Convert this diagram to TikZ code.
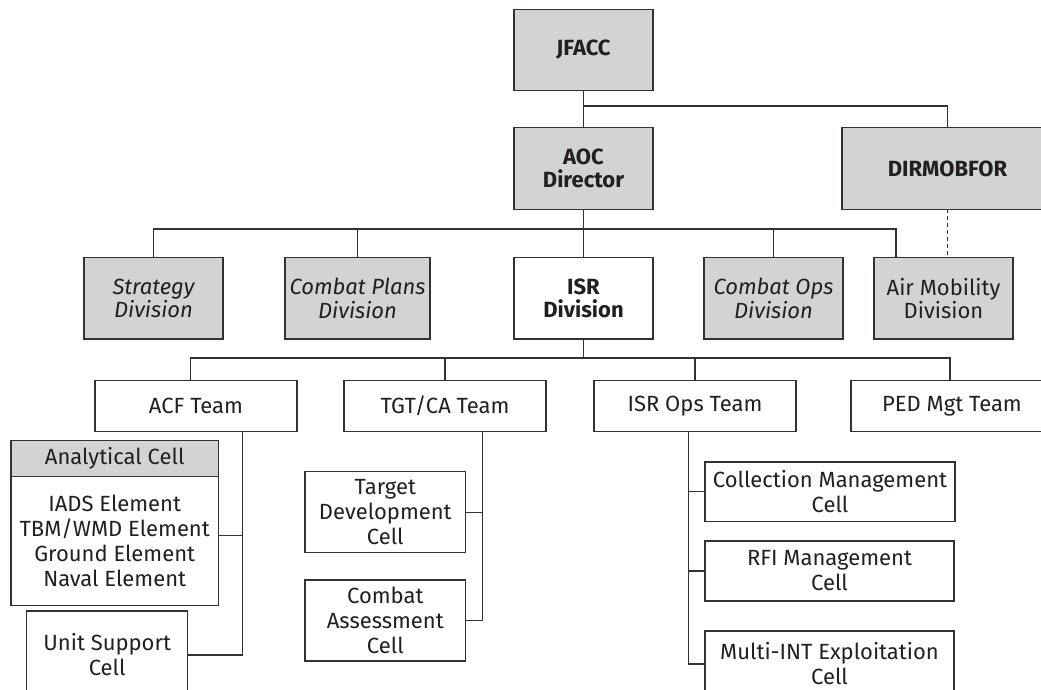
\documentclass[tikz,border=0pt]{standalone}
\usepackage{fontspec}
\setmainfont{Fira Sans}
\usetikzlibrary{calc}
\definecolor{boxgray}{RGB}{209,211,212}
\definecolor{ink}{RGB}{35,31,32}
\definecolor{rule}{RGB}{50,50,50}
\newcommand\chartfont{\fontsize{22}{25}\selectfont}
\newcommand\divfont{\fontsize{22}{23.5}\selectfont}

\begin{document}
\begin{tikzpicture}[x=1pt,y=-1pt,
  unitbox/.style={draw=rule, line width=1.2pt, align=center, inner sep=0pt,
    outer sep=0pt, text=ink, font=\chartfont},
  shaded/.style={unitbox, fill=boxgray},
  plain/.style={unitbox, fill=white},
  bold/.style={font=\divfont\bfseries},
  slanted/.style={font=\divfont\itshape},
  upright/.style={font=\divfont},
  link/.style={draw=rule, line width=1.2pt},
  dotlink/.style={link, dash pattern=on 4pt off 3pt}]

\useasboundingbox (0,0) rectangle (1041,690);
\clip (0,0) rectangle (1041,690);

% command level
\node[shaded, bold, minimum width=139pt, minimum height=81.4pt] (jf) at (583.5,50) {JFACC};
\node[shaded, bold, minimum width=139pt, minimum height=81.6pt] (aoc) at (583.5,168.5) {AOC\\Director};
\node[shaded, bold, minimum width=211pt, minimum height=81.6pt] (dm) at (947.5,168.5) {DIRMOBFOR};

% divisions
\node[shaded, slanted, minimum width=139pt, minimum height=81.5pt] (st) at (153.5,298.3) {Strategy\\Division};
\node[shaded, slanted, minimum width=145pt, minimum height=81.5pt] (cp) at (357.5,298.3) {Combat Plans\\Division};
\node[plain, bold, minimum width=139pt, minimum height=81.5pt] (isr) at (583.5,298.3) {ISR\\Division};
\node[shaded, slanted, minimum width=139pt, minimum height=81.5pt] (co) at (773.5,298.3) {Combat Ops\\Division};
\node[shaded, upright, minimum width=139pt, minimum height=81.5pt] (am) at (943.5,298.3) {Air Mobility\\Division};

% ISR teams
\node[plain, minimum width=202pt, minimum height=51pt] (acf) at (196,406.2) {ACF Team};
\node[plain, minimum width=202pt, minimum height=51pt] (tgt) at (445,406.2) {TGT/CA Team};
\node[plain, minimum width=202pt, minimum height=51pt] (ops) at (695,406.2) {ISR Ops Team};
\node[plain, minimum width=202pt, minimum height=51pt] (ped) at (952,406.2) {PED Mgt Team};

% ACF cells
\node[shaded, minimum width=207.3pt, minimum height=36pt] (anh) at (114.7,458.7) {Analytical Cell};
\node[plain, minimum width=207.3pt, minimum height=129pt] (anb) at (114.7,541.2)
  {IADS Element\\TBM/WMD Element\\Ground Element\\Naval Element};
\node[plain, minimum width=161pt, minimum height=88pt] (us) at (107.2,655) {Unit Support\\Cell};

% TGT/CA cells
\node[plain, minimum width=160.7pt, minimum height=81pt] (td) at (385.3,512.2) {Target\\Development\\Cell};
\node[plain, minimum width=160.7pt, minimum height=81pt] (ca) at (385.3,620.5) {Combat\\Assessment\\Cell};

% ISR Ops cells
\node[plain, minimum width=250pt, minimum height=59.7pt] (cm) at (830,491.8) {Collection Management\\Cell};
\node[plain, minimum width=249pt, minimum height=60pt] (rfi) at (829.5,571) {RFI Management\\Cell};
\node[plain, minimum width=249pt, minimum height=66pt] (mi) at (829.5,664) {Multi-INT Exploitation\\Cell};

% command connectors
\coordinate (jbus) at (583.5,106);
\draw[link] (jf.south) -- (aoc.north);
\draw[link] (jbus) -| (dm.north);

% division bus
\coordinate (dbus) at (583.5,229);
\draw[link] (aoc.south) -- (isr.north);
\draw[link] (st.north) |- (dbus) -| ([xshift=-47.5pt]am.north);
\draw[link] (cp.north) -- (cp.north |- dbus);
\draw[link] (co.north) -- (co.north |- dbus);
\draw[dotlink] (dm.south) -- (dm.south |- am.north);

% team bus
\coordinate (tbus) at (583.5,358);
\draw[link] (isr.south) -- (tbus);
\draw[link] ([xshift=-5.3pt]acf.north) |- (tbus) -| ([xshift=-2pt]ped.north);
\draw[link] (tgt.north) -- (tgt.north |- tbus);
\draw[link] (ops.north) -- (ops.north |- tbus);

% ACF branch
\coordinate (acfdrop) at ([xshift=46.7pt]acf.south);
\coordinate (anjoin) at ([yshift=5.5pt]anb.east);
\draw[link] (acfdrop) |- (us.east);
\draw[link] (anjoin) -- (anjoin -| acfdrop);

% TGT/CA branch
\coordinate (tgtdrop) at ([xshift=37.3pt]tgt.south);
\draw[link] (tgtdrop) |- (ca.east);
\draw[link] (td.east) -- (td.east -| tgtdrop);

% ISR Ops branch
\coordinate (opsdrop) at ([xshift=-6.7pt]ops.south);
\draw[link] (opsdrop) |- (mi.west);
\draw[link] (cm.west) -- (cm.west -| opsdrop);
\draw[link] (rfi.west) -- (rfi.west -| opsdrop);

\end{tikzpicture}
\end{document}
